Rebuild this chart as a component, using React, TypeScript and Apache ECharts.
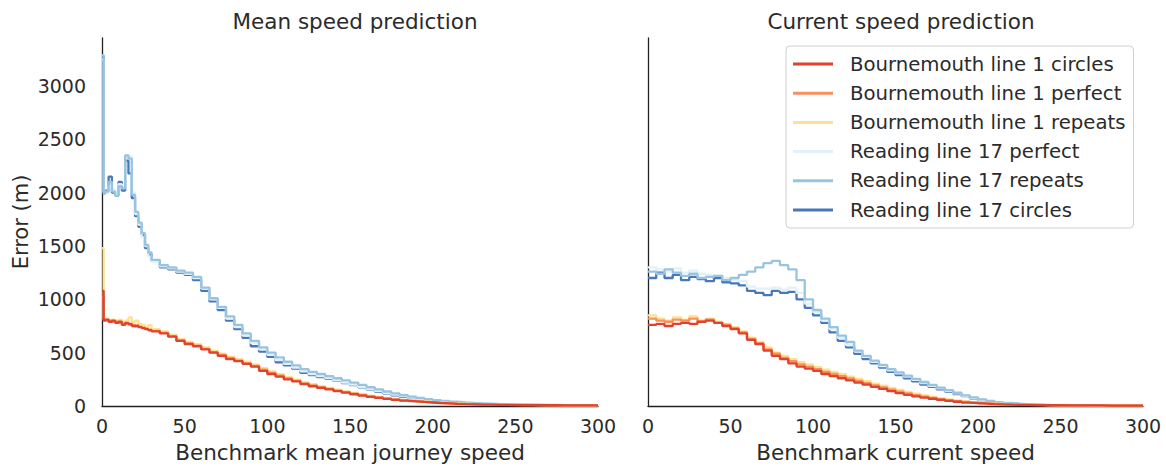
import React, { useEffect, useRef } from "react";
import * as echarts from "echarts";

const seriesNames = [
  "Bournemouth line 1 circles",
  "Bournemouth line 1 perfect",
  "Bournemouth line 1 repeats",
  "Reading line 17 perfect",
  "Reading line 17 repeats",
  "Reading line 17 circles",
];
const seriesColors = ["#e0432d", "#f98f5d", "#fde18f", "#e0f2f8", "#99c4e0", "#4a77b6"];

const xTicks = [0, 50, 100, 150, 200, 250, 300];
const yTicks = [0, 500, 1000, 1500, 2000, 2500, 3000];

// Mean speed panel x positions
const xsMean = [
  0, 1, 2, 4, 6, 8, 10, 12, 14, 16, 18, 20, 22, 24, 26, 28, 30,
  35, 40, 45, 50, 55, 60, 65, 70, 75, 80, 85, 90, 95, 100, 105, 110, 115, 120, 125, 130,
  135, 140, 145, 150, 155, 160, 165, 170, 175, 180, 185, 190, 195, 200, 205, 210, 215,
  220, 225, 230, 235, 240, 245, 250, 255, 260, 265, 270, 275, 280, 285, 290, 295, 300,
];
// Current speed panel x positions
const xsCur = [
  0, 5, 10, 15, 20, 25, 30, 35, 40, 45, 50, 55, 60, 65, 70, 75, 80, 85, 90, 95,
  100, 105, 110, 115, 120, 125, 130, 135, 140, 145, 150, 155, 160, 165, 170, 175, 180, 185, 190, 195,
  200, 205, 210, 215, 220, 225, 230, 235, 240, 245, 250, 255, 260, 265, 270, 275, 280, 285, 290, 295, 300,
];

// ---- Mean speed prediction ----
const meanBournCircles = [
  1080, 800, 810, 790, 800, 780, 790, 760, 780, 770, 750, 755, 740, 730, 720, 710, 700,
  680, 650, 610, 580, 560, 530, 500, 470, 440, 420,
  395, 370, 330, 300, 275, 250, 230, 205, 185, 170,
  155, 140, 125, 110, 98, 86, 76, 66, 58, 50,
  44, 38, 33, 28, 24, 20, 17, 15, 13, 12,
  11, 10, 9, 9, 8, 8, 7, 7, 6, 6,
  6, 5, 5, 5,
];
const meanBournPerfect = [
  1020, 810, 800, 800, 790, 790, 780, 770, 770, 760, 760, 745, 745, 735, 725, 715, 705,
  685, 655, 615, 590, 565, 535, 505, 480, 450, 425,
  400, 375, 340, 310, 285, 258, 236, 212, 192, 176,
  160, 145, 130, 116, 103, 91, 80, 70, 61, 53,
  46, 40, 35, 30, 26, 22, 19, 17, 15, 13,
  12, 11, 10, 9, 9, 8, 8, 7, 7, 6,
  6, 6, 5, 5,
];
const meanBournRepeats = [
  1480, 820, 820, 800, 810, 800, 810, 790, 800, 830, 790, 800, 770, 760, 740, 760, 720,
  700, 670, 630, 600, 580, 550, 520, 490, 460, 440,
  415, 390, 355, 325, 298, 270, 248, 224, 204, 186,
  170, 154, 138, 123, 110, 97, 86, 76, 67, 58,
  50, 44, 38, 33, 28, 24, 21, 18, 16, 14,
  13, 12, 11, 10, 10, 9, 8, 8, 7, 7,
  6, 6, 6, 5,
];
const meanReadPerfect = [
  3250, 2010, 2000, 2060, 2030, 1990, 2080, 2050, 2340, 2340, 2000, 1800, 1700, 1580, 1500, 1400, 1350,
  1310, 1290, 1260, 1240, 1200, 1100, 1000, 920, 820, 740,
  660, 590, 530, 480, 430, 395, 360, 325, 300, 280,
  262, 240, 220, 200, 180, 160, 142, 124, 106, 92,
  78, 66, 56, 47, 40, 33, 28, 24, 21, 18,
  16, 14, 13, 12, 11, 10, 9, 8, 7, 7,
  6, 5, 5, 4,
];
const meanReadRepeats = [
  3290, 1990, 2010, 2100, 2010, 1970, 2060, 2040, 2350, 2320, 1980, 1820, 1720, 1620, 1510, 1440, 1370,
  1320, 1300, 1270, 1250, 1210, 1110, 1010, 930, 840, 760,
  680, 610, 550, 500, 455, 415, 380, 345, 320, 300,
  280, 260, 240, 220, 198, 176, 156, 136, 118, 102,
  88, 75, 64, 55, 47, 40, 34, 29, 25, 22,
  19, 17, 15, 14, 13, 12, 11, 10, 9, 8,
  8, 7, 6, 5,
];
const meanReadCircles = [
  3280, 2000, 2020, 2150, 2000, 1980, 2100, 2020, 2300, 2180, 1950, 1780, 1680, 1600, 1480, 1420, 1360,
  1300, 1280, 1250, 1230, 1180, 1080, 980, 900, 800, 720,
  640, 560, 510, 460, 410, 380, 350, 310, 290, 270,
  255, 235, 215, 195, 175, 155, 135, 118, 100, 86,
  74, 62, 52, 44, 36, 30, 26, 22, 20, 17,
  15, 13, 12, 11, 10, 9, 8, 8, 7, 6,
  6, 5, 5, 4,
];

// ---- Current speed prediction ----
const curBournCircles = [
  760, 770, 750, 770, 780, 770, 790, 800, 780, 750,
  720, 680, 620, 580, 520, 470, 440, 400, 370, 350,
  330, 300, 280, 260, 240, 220, 200, 180, 160, 140,
  120, 105, 90, 78, 68, 58, 48, 40, 32, 26,
  22, 18, 15, 13, 11, 10, 9, 8, 7, 7,
  6, 6, 5, 5, 5, 4, 4, 4, 4, 3,
  3,
];
const curBournPerfect = [
  820, 800, 790, 810, 800, 820, 790, 810, 780, 760,
  730, 690, 630, 590, 530, 490, 450, 420, 390, 370,
  345, 320, 300, 280, 258, 236, 214, 194, 174, 154,
  134, 118, 102, 88, 76, 65, 55, 46, 38, 31,
  26, 21, 18, 15, 13, 11, 10, 9, 8, 7,
  7, 6, 6, 5, 5, 5, 4, 4, 4, 3,
  3,
];
const curBournRepeats = [
  850, 820, 800, 830, 810, 840, 800, 820, 790, 770,
  740, 700, 640, 600, 550, 500, 470, 440, 410, 390,
  365, 340, 320, 300, 276, 254, 232, 210, 190, 170,
  150, 132, 115, 100, 86, 74, 63, 53, 44, 36,
  30, 25, 21, 18, 15, 13, 11, 10, 9, 8,
  8, 7, 6, 6, 5, 5, 5, 4, 4, 4,
  3,
];
const curReadPerfect = [
  1300, 1280, 1260, 1290, 1250, 1270, 1240, 1230, 1220, 1200,
  1180, 1170, 1120, 1100, 1100, 1110, 1090, 1110, 1060, 960,
  880, 800, 720, 640, 570, 510, 460, 415, 375, 335,
  305, 275, 245, 215, 190, 165, 142, 118, 96, 76,
  58, 44, 34, 26, 20, 16, 13, 10, 8, 7,
  6, 5, 5, 4, 4, 3, 3, 3, 3, 2,
  2,
];
const curReadRepeats = [
  1260, 1240, 1280, 1250, 1220, 1240, 1200, 1210, 1220, 1180,
  1200, 1230, 1260, 1300, 1340, 1360, 1320, 1280, 1180, 1000,
  900, 820, 740, 660, 600, 520, 470, 425, 385, 345,
  315, 285, 255, 225, 198, 172, 148, 124, 100, 80,
  62, 48, 37, 28, 22, 17, 14, 11, 9, 8,
  7, 6, 5, 5, 4, 4, 3, 3, 3, 3,
  2,
];
const curReadCircles = [
  1200, 1250, 1200, 1230, 1180, 1210, 1190, 1170, 1200, 1160,
  1150, 1130, 1080, 1060, 1040, 1080, 1060, 1070, 1000, 920,
  850, 780, 690, 610, 550, 490, 440, 400, 360, 320,
  290, 260, 230, 200, 180, 155, 135, 112, 92, 72,
  55, 42, 32, 25, 19, 15, 12, 10, 8, 7,
  6, 5, 5, 4, 4, 3, 3, 3, 3, 2,
  2,
];

const meanSeries = [meanBournCircles, meanBournPerfect, meanBournRepeats, meanReadPerfect, meanReadRepeats, meanReadCircles];
const curSeries = [curBournCircles, curBournPerfect, curBournRepeats, curReadPerfect, curReadRepeats, curReadCircles];

const FONT = "DejaVu Sans";
const TXT = "#2b2b2b";

function zip(xs: number[], ys: number[]) {
  const n = Math.min(xs.length, ys.length);
  const out: number[][] = [];
  for (let i = 0; i < n; i++) out.push([xs[i], ys[i]]);
  return out;
}

// draw order: Reading circles (bottom), Reading perfect, Reading repeats, Bournemouth repeats, perfect, circles (top)
const drawOrder = [5, 3, 4, 2, 1, 0];

export default function App() {
  const ref = useRef<HTMLDivElement>(null);
  useEffect(() => {
    if (!ref.current) return;
    const chart = echarts.init(ref.current, undefined, { renderer: "svg" });
    const xAxisBase = (gridIndex: number, name: string) => ({
      type: "value",
      gridIndex,
      min: 0,
      max: 300,
      interval: 50,
      name,
      nameLocation: "middle",
      nameGap: 35,
      nameTextStyle: { fontSize: 21.5, color: TXT, fontFamily: FONT },
      axisLine: { show: true, onZero: false, lineStyle: { color: "#222", width: 1.3 } },
      axisTick: { show: false },
      splitLine: { show: false },
      axisLabel: { fontSize: 19, color: TXT, fontFamily: FONT, margin: 10, showMaxLabel: true, showMinLabel: true },
      data: xTicks,
    });
    const yAxisBase = (gridIndex: number, showLabels: boolean) => ({
      type: "value",
      gridIndex,
      min: 0,
      max: 3450,
      interval: 500,
      name: showLabels ? "Error (m)" : "",
      nameLocation: "middle",
      nameGap: 71,
      nameTextStyle: { fontSize: 21, color: TXT, fontFamily: FONT },
      axisLine: { show: true, lineStyle: { color: "#222", width: 1.3 } },
      axisTick: { show: false },
      splitLine: { show: false },
      axisLabel: {
        show: showLabels,
        fontSize: 19,
        color: TXT,
        fontFamily: FONT,
        margin: 16,
        formatter: (v: number) => (yTicks.indexOf(v) >= 0 ? String(v) : ""),
      },
    });
    const series: any[] = [];
    [meanSeries, curSeries].forEach((panel, p) => {
      const xs = p === 0 ? xsMean : xsCur;
      drawOrder.forEach((i) => {
        series.push({
          type: "line",
          name: seriesNames[i],
          xAxisIndex: p,
          yAxisIndex: p,
          step: "end",
          symbol: "none",
          data: zip(xs, panel[i]),
          lineStyle: { color: seriesColors[i], width: 2.3 },
          itemStyle: { color: seriesColors[i] },
          z: 2,
        });
      });
    });
    chart.setOption({
      animation: false,
      backgroundColor: "#ffffff",
      textStyle: { fontFamily: FONT },
      title: [
        { text: "Mean speed prediction", left: 350, top: 5, textAlign: "center", textStyle: { fontSize: 21.5, fontWeight: "normal", color: TXT, fontFamily: FONT } },
        { text: "Current speed prediction", left: 896, top: 5, textAlign: "center", textStyle: { fontSize: 21.5, fontWeight: "normal", color: TXT, fontFamily: FONT } },
      ],
      grid: [
        { left: 102, right: 568, top: 38, bottom: 61 },
        { left: 648, right: 23, top: 38, bottom: 61 },
      ],
      xAxis: [xAxisBase(0, "Benchmark mean journey speed"), xAxisBase(1, "Benchmark current speed")],
      yAxis: [yAxisBase(0, true), yAxisBase(1, false)],
      legend: {
        data: seriesNames,
        orient: "vertical",
        left: 786,
        top: 46,
        padding: [8, 8, 8, 7],
        itemGap: 9.2,
        itemWidth: 40,
        itemHeight: 3,
        icon: "rect",
        borderColor: "#d0d0d0",
        borderWidth: 1,
        borderRadius: 4,
        backgroundColor: "#ffffff",
        textStyle: { fontSize: 19.7, color: TXT, fontFamily: FONT, lineHeight: 20, padding: [0, 0, 0, 12] },
      },
      series,
    });
    return () => chart.dispose();
  }, []);
  return <div ref={ref} style={{ position: "absolute", left: 0, top: 0, width: 1166, height: 468 }} />;
}
